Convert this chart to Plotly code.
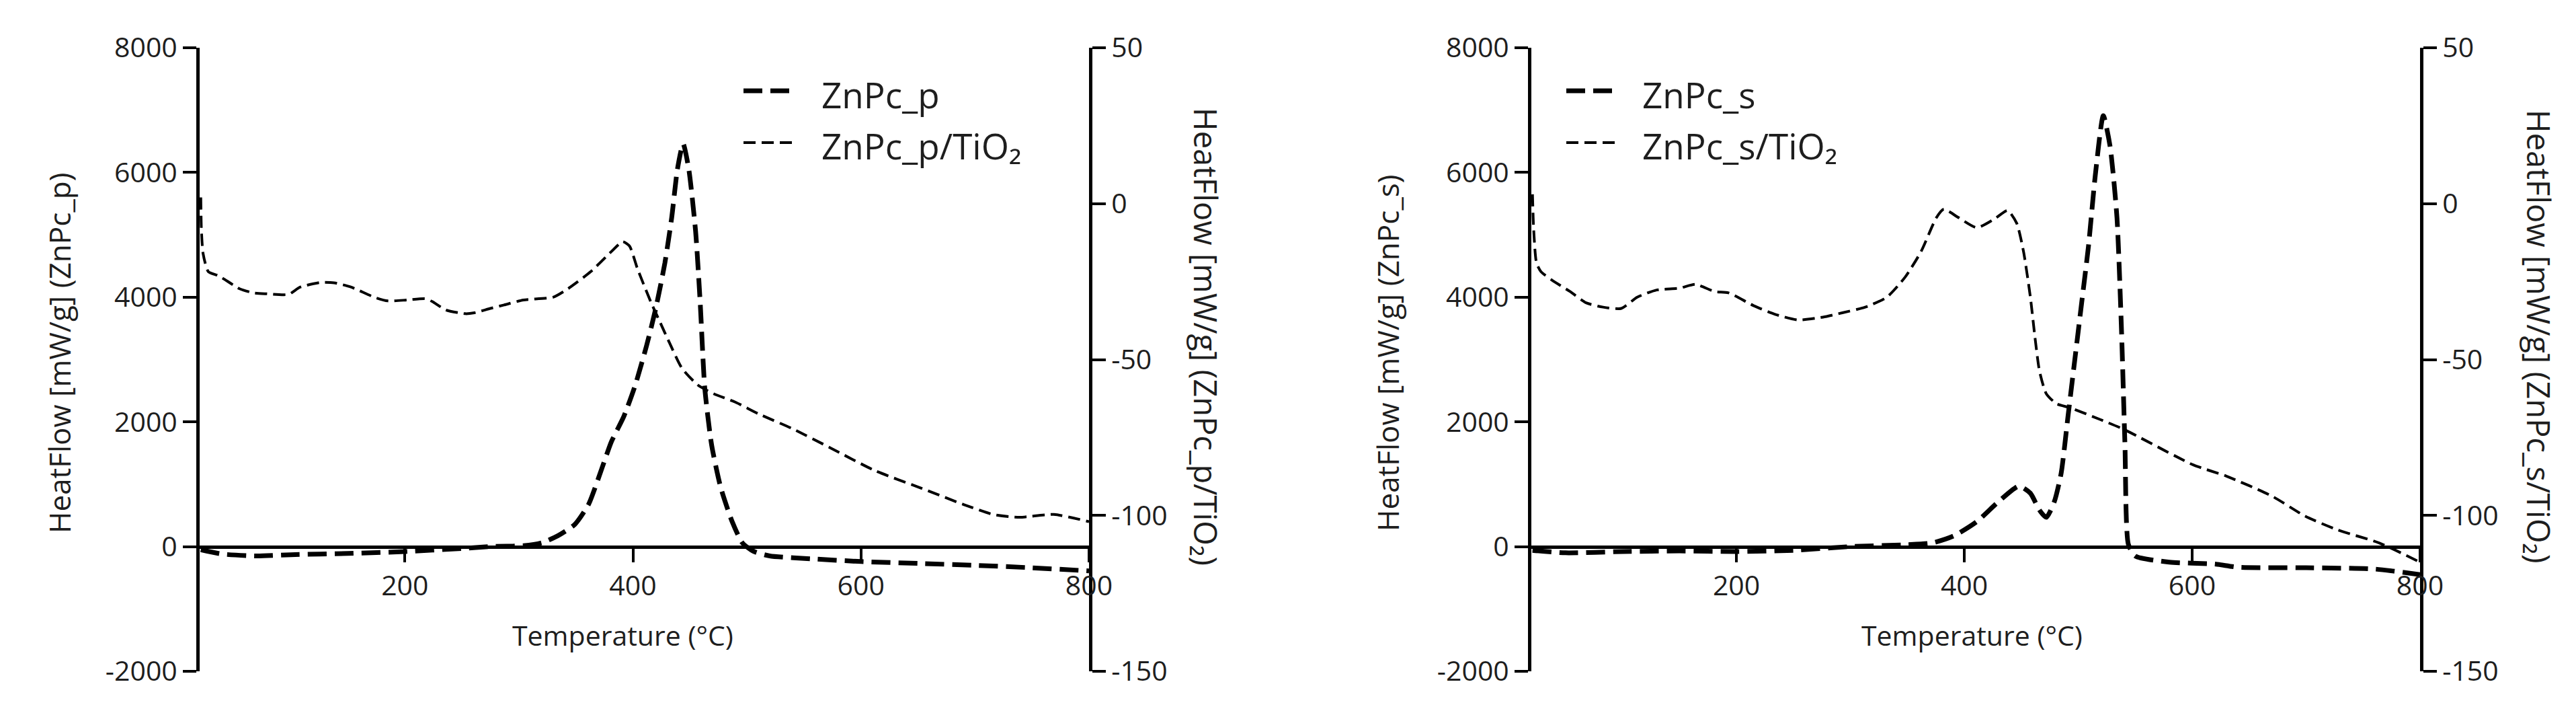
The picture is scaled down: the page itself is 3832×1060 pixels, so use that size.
import plotly.graph_objects as go

# ---------------- data ----------------
# Left panel: ZnPc_p (left axis) and ZnPc_p/TiO2 (right axis)
T_p = [21, 40, 70, 100, 150, 200, 250, 275, 304, 320, 334, 349, 361, 373, 381, 392, 402,
       412, 420, 428, 434, 439, 444, 449, 455, 459, 463, 469, 477, 487, 496, 506, 520, 560,
       600, 650, 700, 750, 800]
HF_p = [-50, -120, -150, -130, -110, -80, -30, 0, 14, 60, 173, 355, 674, 1267, 1677, 2087,
        2588, 3225, 3818, 4547, 5276, 6050, 6460, 6050, 5048, 3909, 2542, 1631, 948, 401, 59,
        -77, -150, -200, -240, -270, -300, -340, -390]

T_pt = [21, 21.5, 23, 27.6, 37, 55, 67, 78, 98, 108, 126, 138, 153, 173, 185, 202, 218, 224,
        236, 253, 261, 275, 287, 304, 330, 343, 363, 381, 391, 397, 404, 416, 424, 432, 443,
        457, 471, 490, 510, 540, 573, 612, 651, 690, 716, 739, 769, 800]
HF_pt = [2, -8, -16, -21.8, -23.2, -27.3, -28.6, -28.9, -29.1, -26.8, -25.3, -25.4, -26.8,
         -30, -31.2, -30.9, -30.5, -31.4, -34.1, -35.3, -35, -33.6, -32.5, -30.9, -30, -27.3,
         -21.8, -15.4, -12.2, -13.6, -20.9, -31.8, -38.2, -44.6, -52.8, -58.2, -61, -63.7,
         -67.4, -72.2, -78.3, -85.6, -91, -96.5, -99.7, -100.6, -99.7, -102]

# Right panel: ZnPc_s (left axis) and ZnPc_s/TiO2 (right axis)
T_s = [21, 50, 100, 150, 200, 250, 300, 350, 372, 391, 411, 430, 448, 458, 466, 472, 479,
       485, 491, 497, 503, 509, 515, 522, 528, 534, 538, 541, 544, 550, 580, 620, 640, 700,
       760, 800]
HF_s = [-60, -100, -80, -70, -80, -60, 0, 30, 59, 173, 401, 720, 970, 856, 583, 469, 720,
        1175, 2087, 2998, 3909, 4820, 5959, 6911, 6414, 5276, 3453, 1631, 36, -150, -250,
        -280, -330, -340, -360, -450]

T_st = [21, 22, 24.5, 28.4, 38, 54, 68, 83, 99, 113, 130, 150, 164, 181, 193, 215, 234, 254,
        276, 293, 313, 332, 348, 362, 375.5, 382, 395, 411, 426.5, 438, 446, 452, 458, 462,
        466, 472, 481, 493, 519, 540, 601, 630, 670, 699, 728, 764, 800]
HF_st = [3, -8, -19, -21.8, -24.5, -28.2, -31.8, -33.2, -33.6, -30, -27.7, -27.1, -25.9,
         -28.2, -28.6, -32.7, -35.5, -37.3, -36.4, -35, -33.2, -30, -23.6, -15.4, -4.5, -1.8,
         -4.5, -7.7, -4.9, -2.2, -6.3, -15.4, -30, -42.8, -53.7, -61, -64.2, -65.5, -69.2,
         -72.4, -83.8, -87.4, -93.8, -100.2, -104.7, -108.8, -115]

# tick labels
x_ticks = [200, 400, 600, 800]
x_ticktext = ["200", "400", "600", "800"]
yl_ticks = [-2000, 0, 2000, 4000, 6000, 8000]
yl_ticktext = ["-2000", "0", "2000", "4000", "6000", "8000"]
yr_ticks = [-150, -100, -50, 0, 50]
yr_ticktext = ["-150", "-100", "-50", "0", "50"]

names_left = ["ZnPc_p", "ZnPc_p/TiO\u2082"]
names_right = ["ZnPc_s", "ZnPc_s/TiO\u2082"]
x_title = "Temperature (°C)"
y_titles = ["HeatFlow [mW/g] (ZnPc_p)", "HeatFlow [mW/g] (ZnPc_p/TiO\u2082)",
            "HeatFlow [mW/g] (ZnPc_s)", "HeatFlow [mW/g] (ZnPc_s/TiO\u2082)"]

# ---------------- layout geometry ----------------
W, H = 3832, 1060
ML, MR, MT, MB = 289, 240, 63, 70
PW = W - ML - MR
PH = H - MT - MB


def px(x):
    return (x - ML) / PW


def py(y):
    return (H - MB - y) / PH


FONT = "Open Sans, DejaVu Sans"
INK = "#1e1e1e"
THICK = dict(color="black", width=7, dash="28px,12px")
THIN = dict(color="black", width=4, dash="18px,9px")

fig = go.Figure()
fig.add_trace(go.Scatter(x=T_p, y=HF_p, xaxis="x", yaxis="y", mode="lines", line=THICK,
                         line_shape="spline", line_smoothing=0.6, name=names_left[0]))
fig.add_trace(go.Scatter(x=T_pt, y=HF_pt, xaxis="x", yaxis="y2", mode="lines", line=THIN,
                         line_shape="spline", line_smoothing=0.6, name=names_left[1]))
fig.add_trace(go.Scatter(x=T_s, y=HF_s, xaxis="x2", yaxis="y3", mode="lines", line=THICK,
                         line_shape="spline", line_smoothing=0.6, name=names_right[0]))
fig.add_trace(go.Scatter(x=T_st, y=HF_st, xaxis="x2", yaxis="y4", mode="lines", line=THIN,
                         line_shape="spline", line_smoothing=0.6, name=names_right[1]))

axis_common = dict(showline=True, linecolor="black", linewidth=5, ticks="outside",
                   ticklen=20, tickwidth=4, tickcolor="black", showgrid=False,
                   zeroline=False, tickfont=dict(family=FONT, size=41, color=INK))

fig.update_layout(
    width=W, height=H, margin=dict(l=ML, r=MR, t=MT, b=MB),
    paper_bgcolor="white", plot_bgcolor="white", showlegend=False,
    font=dict(family=FONT, color=INK),
    xaxis=dict(domain=[0, px(1612)], range=[20, 800], anchor="free", position=0.2,
               tickvals=x_ticks, ticktext=x_ticktext, **axis_common),
    yaxis=dict(domain=[0, 1], range=[-2000, 8000], anchor="x", side="left",
               tickvals=yl_ticks, ticktext=yl_ticktext, **axis_common),
    yaxis2=dict(range=[-150, 50], anchor="x", overlaying="y", side="right",
                tickvals=yr_ticks, ticktext=yr_ticktext, **axis_common),
    xaxis2=dict(domain=[px(2270), 1], range=[20, 800], anchor="free", position=0.2,
                tickvals=x_ticks, ticktext=x_ticktext, **axis_common),
    yaxis3=dict(domain=[0, 1], range=[-2000, 8000], anchor="x2", side="left",
                tickvals=yl_ticks, ticktext=yl_ticktext, **axis_common),
    yaxis4=dict(range=[-150, 50], anchor="x2", overlaying="y3", side="right",
                tickvals=yr_ticks, ticktext=yr_ticktext, **axis_common),
)

# axis titles
ann = []
for cx in (918, 2925):
    ann.append(dict(x=px(cx), y=py(936), xref="paper", yref="paper", text=x_title,
                    showarrow=False, font=dict(family=FONT, size=41, color=INK),
                    xanchor="center", yanchor="middle"))
for (cx, cy, ang, fs), t in zip([(80, 517, -90, 44), (1786, 492, 90, 47),
                                 (2056, 517, -90, 44), (3769, 492, 90, 47)], y_titles):
    ann.append(dict(x=px(cx), y=py(cy), xref="paper", yref="paper", text=t,
                    textangle=ang, showarrow=False,
                    font=dict(family=FONT, size=fs, color=INK),
                    xanchor="center", yanchor="middle"))

# legends (drawn manually: sample line + label)
shapes = []
for (x0, x1, tx), names in zip([(1098, 1175, 1212), (2322, 2395, 2433)],
                               [names_left, names_right]):
    for (yy, style, nm) in [(127, THICK, names[0]), (204, THIN, names[1])]:
        shapes.append(dict(type="line", xref="paper", yref="paper",
                           x0=px(x0), x1=px(x1), y0=py(yy), y1=py(yy),
                           line=dict(color="black", width=style["width"],
                                     dash=style["dash"])))
        ann.append(dict(x=px(tx), y=py(yy + 5), xref="paper", yref="paper", text=nm,
                        showarrow=False, font=dict(family=FONT, size=53, color=INK),
                        xanchor="left", yanchor="middle"))

fig.update_layout(annotations=ann, shapes=shapes)
fig.write_html("out.html")
